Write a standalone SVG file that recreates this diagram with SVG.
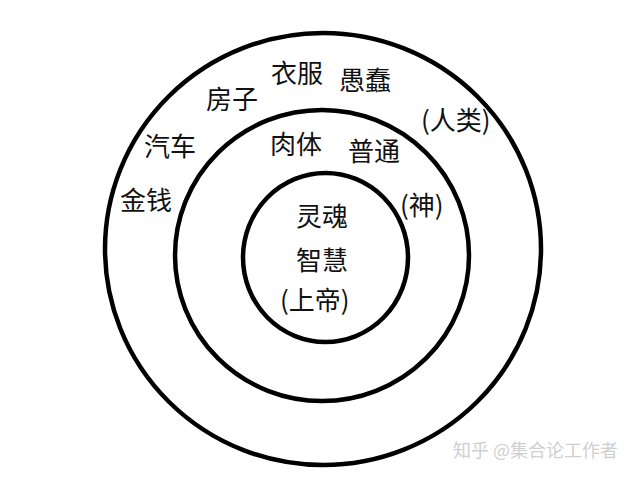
<svg xmlns="http://www.w3.org/2000/svg" width="640" height="480" viewBox="0 0 640 480">
<style>
.ring{fill:none;stroke:#000;stroke-width:4.5}
.t{font-family:"Noto Sans CJK SC","Noto Sans",sans-serif;font-size:26px;fill:#111}
.wm{font-family:"Noto Sans CJK SC","Noto Sans",sans-serif;font-size:18px;fill:#cfcfcf}
</style>
<rect width="640" height="480" fill="#fff"/>
<g id="connectors"></g>
<g id="outer"><ellipse class="ring" cx="323" cy="249" rx="218" ry="216"/></g>
<g id="middle"><ellipse class="ring" cx="322" cy="255.5" rx="147" ry="145.5"/></g>
<g id="inner"><ellipse class="ring" cx="325.5" cy="257.5" rx="82.5" ry="84.5"/></g>
<g id="labels-outer">
<text class="t" x="271" y="83">衣服</text>
<text class="t" x="339" y="90">愚蠢</text>
<text class="t" x="206" y="109">房子</text>
<text class="t" x="421" y="130">(人类)</text>
<text class="t" x="144" y="156">汽车</text>
<text class="t" x="120" y="210">金钱</text>
</g>
<g id="labels-middle">
<text class="t" x="270" y="154">肉体</text>
<text class="t" x="348" y="161">普通</text>
<text class="t" x="400" y="215">(神)</text>
</g>
<g id="labels-inner">
<text class="t" x="296" y="226">灵魂</text>
<text class="t" x="296" y="270">智慧</text>
<text class="t" x="280" y="310">(上帝)</text>
</g>
<text class="wm" x="453" y="457">知乎 @集合论工作者</text>
</svg>
